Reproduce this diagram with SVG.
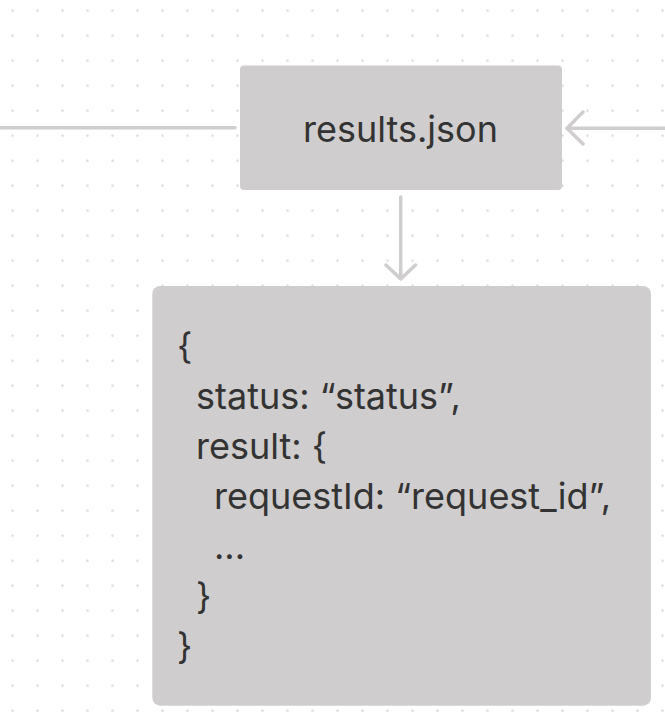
<svg xmlns="http://www.w3.org/2000/svg" width="665" height="719" viewBox="0 0 665 719">
<defs>
<pattern id="dots" x="0" y="-1.8" width="25" height="25" patternUnits="userSpaceOnUse">
<circle cx="12.5" cy="12.5" r="1.2" fill="#d9d9d9"/>
</pattern>
<style>
.box{fill:#cfcdce}
.t{font-family:Inter,"Noto Sans",sans-serif;font-size:36px;fill:#333333}
.c{stroke:#cfcdce;stroke-width:3.5;fill:none;stroke-linecap:round;stroke-linejoin:round}
</style>
</defs>
<rect width="665" height="719" fill="#ffffff"/>
<rect width="665" height="719" fill="url(#dots)"/>
<g id="connectors">
<path class="c" d="M-5 127.7 L235 127.7"/>
<path class="c" d="M670 128.3 L567 128.3 M583 112 L567 128.3 L583 144"/>
<path class="c" d="M400.7 197 L400.7 279 M386 265 L400.7 279 L415.5 265"/>
</g>
<g id="results-json">
<rect class="box" x="240" y="65.5" width="322" height="124.5" rx="4"/>
<text class="t" x="400.5" y="141.5" text-anchor="middle">results.json</text>
</g>
<g id="json-body">
<rect class="box" x="152.3" y="286" width="498.7" height="419.7" rx="8"/>
<text class="t" x="177" y="359">{</text>
<text class="t" x="196" y="409.3">status: “status”,</text>
<text class="t" x="196" y="459.3">result: {</text>
<text class="t" x="214" y="509.3">requestId: “request_id”,</text>
<text class="t" x="214" y="559.3">...</text>
<text class="t" x="196" y="609.3">}</text>
<text class="t" x="177" y="659.3">}</text>
</g>
</svg>
